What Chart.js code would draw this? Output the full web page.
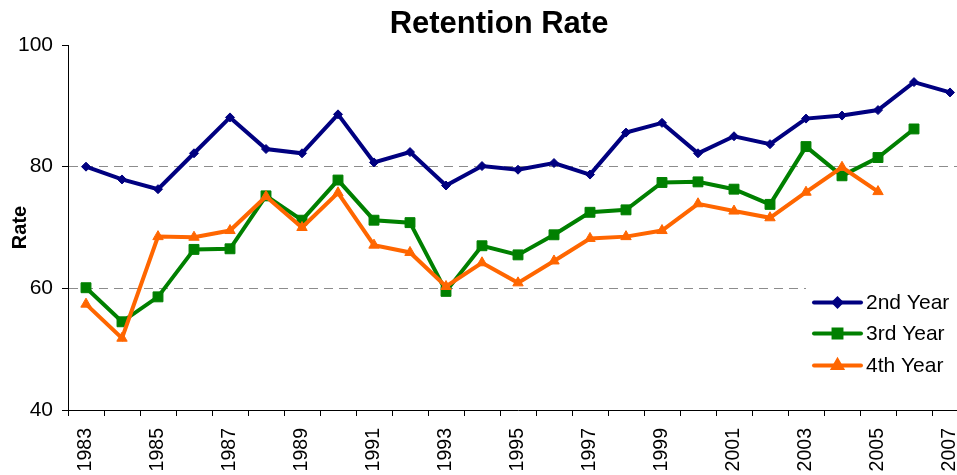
<!DOCTYPE html>
<html>
<head>
<meta charset="utf-8">
<script src="https://cdn.jsdelivr.net/npm/chart.js@4"></script>
<style>
  html, body { margin: 0; padding: 0; background: #fff; overflow: hidden; }
  #wrap { width: 996px; height: 475px; }
</style>
</head>
<body>
<div id="wrap"><canvas id="myChart"></canvas></div>
<script>
// categories
const years = ["1983","1984","1985","1986","1987","1988","1989","1990","1991","1992","1993","1994","1995",
  "1996","1997","1998","1999","2000","2001","2002","2003","2004","2005","2006","2007"];
// series values
const secondYear = [80.0,77.9,76.3,82.2,88.1,82.9,82.2,88.6,80.7,82.4,76.9,80.1,79.5,
  80.6,78.7,85.6,87.2,82.2,85.0,83.7,87.9,88.4,89.3,93.9,92.2];
const thirdYear = [60.1,54.5,58.6,66.4,66.5,75.2,71.2,77.8,71.2,70.8,59.5,67.0,65.5,
  68.8,72.5,72.9,77.4,77.5,76.3,73.8,83.3,78.5,81.5,86.2,null];
const fourthYear = [57.4,51.8,68.5,68.4,69.5,75.1,70.0,75.7,67.1,65.9,60.3,64.2,60.9,
  64.5,68.2,68.5,69.5,73.9,72.7,71.6,75.8,79.9,75.9,null,null];
// y tick values
const yTicks = [40, 60, 80, 100];
const chartTitle = "Retention Rate";

Chart.defaults.font.family = "'Liberation Sans', Arial, sans-serif";
Chart.defaults.color = "#000";

// title over the whole picture + legend inside the plot, lower right
const extras = {
  id: "extras",
  afterDraw(chart) {
    const c = chart.ctx;
    c.save();
    c.fillStyle = "#000";
    c.font = "bold 31px 'Liberation Sans', Arial, sans-serif";
    c.textAlign = "center";
    c.textBaseline = "alphabetic";
    c.fillText(chartTitle, 499, 33);

    c.fillStyle = "#fff";
    c.fillRect(806, 284, 160, 100);
    const rows = [302.5, 333.5, 365.5];
    chart.data.datasets.forEach((ds, k) => {
      const y = rows[k];
      c.strokeStyle = ds.borderColor;
      c.lineWidth = ds.borderWidth;
      c.lineCap = "round";
      c.beginPath();
      c.moveTo(814, y);
      c.lineTo(861, y);
      c.stroke();
      c.fillStyle = ds.backgroundColor;
      Chart.helpers.drawPoint(c, {
        pointStyle: ds.pointStyle,
        radius: ds.pointRadius * 0.8,
        borderWidth: 1,
        rotation: 0
      }, 837.5, y);
      c.fillStyle = "#000";
      c.font = "21px 'Liberation Sans', Arial, sans-serif";
      c.textBaseline = "middle";
      c.textAlign = "left";
      c.fillText(ds.label, 866, y + 1);
    });
    c.restore();
  }
};

const ctx = document.getElementById("myChart");
new Chart(ctx, {
  type: "line",
  data: {
    labels: years,
    datasets: [
      {
        label: "2nd Year",
        data: secondYear,
        borderColor: "#000080",
        backgroundColor: "#000080",
        borderWidth: 4,
        pointStyle: "rectRot",
        pointRadius: 4.5,
        pointBorderWidth: 1,
        order: 2,
      },
      {
        label: "3rd Year",
        data: thirdYear,
        borderColor: "#008000",
        backgroundColor: "#008000",
        borderWidth: 4,
        pointStyle: "rect",
        pointRadius: 7,
        pointBorderWidth: 1,
        order: 1,
      },
      {
        label: "4th Year",
        data: fourthYear,
        borderColor: "#FF6600",
        backgroundColor: "#FF6600",
        borderWidth: 4,
        pointStyle: "triangle",
        pointRadius: 6,
        pointBorderWidth: 1,
        order: 0,
      },
    ],
  },
  options: {
    responsive: true,
    maintainAspectRatio: false,
    devicePixelRatio: 1,
    animation: false,
    layout: { padding: { left: 0, right: 28, top: 45, bottom: 0 } },
    plugins: {
      legend: { display: false },
      tooltip: { enabled: false },
      title: { display: false },
    },
    scales: {
      x: {
        offset: true,
        grid: {
          offset: true,
          drawOnChartArea: false,
          color: "#000",
          tickColor: "#000",
          tickLength: 6,
        },
        border: { display: true, color: "#000", width: 1 },
        ticks: {
          autoSkip: false,
          minRotation: 90,
          maxRotation: 90,
          padding: 12,
          font: { size: 19.5 },
          color: "#000",
          callback: function (val, i) {
            return i % 2 === 0 ? years[i] : "";
          },
        },
        afterFit: function (scale) {
          scale.height = 65;
        },
      },
      y: {
        min: 40,
        max: 100,
        afterBuildTicks: function (scale) {
          scale.ticks = yTicks.map(v => ({ value: v }));
        },
        grid: {
          color: function (c) {
            return c.tick && (c.tick.value === 60 || c.tick.value === 80) ? "#8c8c8c" : "rgba(0,0,0,0)";
          },
          tickColor: "#000",
          tickLength: 6,
          tickBorderDash: [],
        },
        border: { display: true, color: "#000", width: 1, dash: [9, 6] },
        ticks: {
          padding: 9,
          font: { size: 21 },
          color: "#000",
        },
        title: {
          display: true,
          text: "Rate",
          font: { size: 20, weight: "bold" },
          padding: { top: 8, bottom: 0 },
          color: "#000",
        },
        afterFit: function (scale) {
          scale.width = 68;
        },
      },
    },
  },
  plugins: [extras],
});
</script>
</body>
</html>
